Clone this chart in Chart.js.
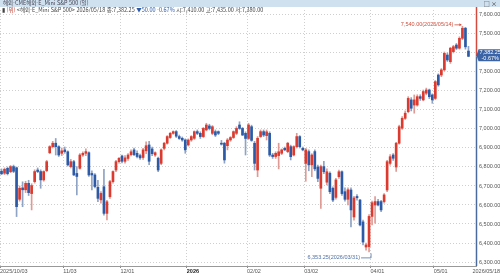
<!DOCTYPE html>
<html lang="ko">
<head>
<meta charset="UTF-8">
<title>E_Mini S&amp;P 500 (일)</title>
<script src="https://cdn.jsdelivr.net/npm/chart.js"></script>
<style>
  html, body { margin: 0; padding: 0; background: #fff; }
  #wrap { position: relative; width: 500px; height: 275px; overflow: hidden; }
  #chart { position: absolute; left: 0; top: 0; }
  #titlebar {
    position: absolute; left: 0; top: 0; width: 500px; height: 7px;
    background: #cfe0ee; color: #445; z-index: 2;
    font: 5.5px/7px 'Noto Sans CJK KR', 'Liberation Sans', sans-serif;
  }
  #titlebar .t { position: absolute; left: 3px; top: 0; white-space: nowrap; }
  #titlebar .ic { position: absolute; right: 3px; top: 0; font-size: 6px; color: #333; }
  #info {
    position: absolute; left: 2px; top: 7px; height: 7px; white-space: nowrap; z-index: 2;
    color: #444; font: 5.5px/7px 'Noto Sans CJK KR', 'Liberation Sans', sans-serif;
  }
  #info .dn { color: #2d5aa6; }
  #info .mk { color: #c0392b; }
</style>
</head>
<body>
<div id="wrap">
  <canvas id="chart" width="500" height="275"></canvas>
  <div id="titlebar"><span class="t">해외-CME해외-E_Mini S&amp;P 500 (일)</span><span class="ic">□ ×</span></div>
  <div id="info">▮ <span class="mk">(위)</span> &lt;해외-E_Mini S&amp;P 500&gt; 2026/05/18 종:7,382.25 <span class="dn">▼50.00 -0.67%</span> 시:7,410.00 고:7,435.00 저:7,380.00</div>
</div>

<script>
// trading days per month
const days2510 = [3,6,7,8,9,10,13,14,15,16,17,20,21,22,23,24,27,28,29,30,31];
const days2511 = [3,4,5,6,7,10,11,12,13,14,17,18,19,20,21,24,25,26,28];
const days2512 = [1,2,3,4,5,8,9,10,11,12,15,16,17,18,19,22,23,24,26,29,30,31];
const days2601 = [2,5,6,7,8,9,12,13,14,15,16,20,21,22,23,26,27,28,29,30];
const days2602 = [2,3,4,5,6,9,10,11,12,13,17,18,19,20,23,24,25,26,27];
const days2603 = [2,3,4,5,6,9,10,11,12,13,16,17,18,19,20,23,24,25,26,27,30,31];
const days2604 = [1,2,6,7,8,9,10,13,14,15,16,17,20,21,22,23,24,27,28,29,30];
const days2605 = [1,4,5,6,7,8,11,12,13,14,15,18];

const monthKeys = ['2025/10','2025/11','2025/12','2026/01','2026/02','2026/03','2026/04','2026/05'];
const monthDays = [days2510, days2511, days2512, days2601, days2602, days2603, days2604, days2605];

// x-axis labels, one per month start
const xTickText = ['2025/10/03','11/03','12/01','2026','02/02','03/02','04/01','05/01'];
const lastDateText = '2026/05/18';

// y-axis ticks
const yTicks = [6300,6400,6500,6600,6700,6800,6900,7000,7100,7200,7300,7400,7500,7600];

const open = [
  6778,6767,6793,6775,6802,6796,6630,6690,6680,6714,6660,6723,6784,6776,6732,6781,6875,6907,6925,6907,6872,
  6890,6880,6802,6828,6766,6793,6863,6872,6875,6766,6758,6693,6627,6696,6556,6644,6723,6784,6828,
  6858,6830,6845,6865,6890,6872,6860,6850,6885,6916,6895,6863,6846,6819,6898,6925,6955,6977,6986,6960,6951,6942,
  6916,6942,6951,6986,6977,6960,6995,7016,6977,6986,6986,6925,6925,6912,6942,6955,6977,7021,7003,6977,
  6950,7012,6925,6784,6960,6986,6965,6977,6863,6855,6860,6872,6898,6881,6907,6863,6907,6960,6898,
  6819,6881,6811,6881,6800,6688,6802,6720,6767,6688,6640,6749,6775,6670,6630,6679,6537,6645,6626,6511,6379,6381,
  6540,6600,6618,6618,6618,6679,6819,6863,6800,6925,7004,7056,7091,7153,7126,7126,7170,7153,7188,7205,7179,
  7161,7284,7284,7311,7389,7354,7407,7442,7425,7477,7530,7410
];
const high = [
  6790,6795,6800,6808,6810,6800,6700,6722,6725,6730,6712,6785,6795,6785,6780,6835,6912,6935,6950,6912,6900,
  6905,6885,6840,6835,6802,6870,6880,6895,6880,6780,6765,6730,6670,6788,6625,6730,6780,6835,6850,
  6862,6860,6870,6890,6900,6885,6868,6898,6932,6935,6905,6880,6852,6895,6930,6965,6982,6990,6992,6968,6958,6948,
  6948,6965,6990,6995,6985,7008,7030,7025,7018,6995,6990,6940,6930,6950,6960,6990,7012,7038,7008,6985,
  7030,7020,6935,6960,6995,6995,6995,6985,6872,6880,6925,6895,6905,6930,6915,6912,6977,6965,6905,
  6898,6890,6870,6890,6810,6810,6830,6790,6775,6695,6740,6784,6780,6690,6690,6690,6645,6655,6630,6520,6400,6550,
  6620,6644,6630,6625,6660,6835,6865,6870,6930,7020,7065,7095,7170,7165,7179,7180,7180,7205,7215,7210,7185,
  7255,7290,7318,7405,7400,7430,7440,7450,7485,7540,7535,7435
];
const low = [
  6760,6760,6758,6770,6770,6539,6620,6591,6665,6650,6574,6715,6770,6688,6725,6775,6870,6900,6863,6855,6860,
  6872,6805,6795,6755,6653,6788,6855,6860,6750,6679,6690,6618,6610,6547,6521,6635,6715,6775,6820,
  6822,6820,6835,6858,6860,6848,6840,6840,6870,6812,6860,6855,6775,6812,6890,6920,6950,6972,6955,6945,6935,6872,
  6910,6935,6945,6970,6950,6955,6990,6995,6970,6960,6970,6915,6820,6890,6935,6950,6970,6998,6965,6863,
  6945,6935,6784,6749,6955,6960,6942,6855,6845,6845,6790,6865,6885,6875,6837,6858,6900,6900,6885,
  6725,6780,6749,6780,6723,6582,6765,6705,6660,6618,6630,6740,6650,6620,6600,6484,6520,6625,6490,6390,6362,6353.25,
  6495,6505,6595,6565,6610,6670,6810,6835,6776,6920,6998,7050,7085,7095,7083,7120,7150,7148,7180,7160,7135,
  7155,7225,7275,7305,7355,7345,7400,7418,7420,7470,7420,7380
];
const close = [
  6764,6788,6765,6802,6777,6591,6688,6680,6714,6665,6702,6776,6776,6732,6776,6828,6907,6925,6907,6863,6885,
  6881,6811,6828,6758,6750,6863,6872,6881,6758,6758,6697,6635,6661,6556,6617,6723,6776,6828,6846,
  6830,6848,6863,6880,6865,6855,6848,6890,6912,6830,6870,6875,6784,6890,6925,6960,6977,6986,6962,6950,6942,6890,
  6942,6960,6986,6977,6960,7003,7021,7003,7012,6968,6977,6920,6837,6942,6955,6986,7003,7003,6968,6950,
  7021,6940,6819,6951,6986,6968,6985,6863,6855,6872,6880,6890,6890,6925,6854,6907,6960,6907,6890,
  6890,6811,6863,6790,6740,6802,6775,6775,6670,6626,6732,6775,6660,6630,6680,6574,6637,6638,6495,6405,6390,6540,
  6612,6618,6600,6574,6653,6828,6854,6846,6925,7012,7056,7083,7161,7109,7153,7170,7161,7197,7205,7170,7153,
  7249,7232,7311,7398,7363,7425,7433,7425,7477,7530,7432.25,7382.25
];

const changePct = '-0.67%';

const UP = '#dc3a2e', DOWN = '#2d5aa6';
const UP_WICK = '#e09a94', DOWN_WICK = '#8fa3c4';

const dates = [];
monthKeys.forEach((m, k) => monthDays[k].forEach(d => dates.push(m + '/' + String(d).padStart(2, '0'))));

// index of first trading day of every month
const monthStart = [];
dates.forEach((d, i) => { if (i === 0 || d.slice(0, 7) !== dates[i - 1].slice(0, 7)) monthStart.push(i); });

const isUp = close.map((c, i) => c >= open[i]);
const fmt = v => v.toLocaleString('en-US', { minimumFractionDigits: 2, maximumFractionDigits: 2 });
const FONT = "'Liberation Sans', Arial, sans-serif";

const decor = {
  id: 'decor',
  afterDraw(chart) {
    const { ctx, chartArea, scales: { x, y } } = chart;
    const last = close.length - 1;
    const yLast = y.getPixelForValue(close[last]);
    const ax = chartArea.right + 0.5;

    // right axis line: red above last price, blue below
    ctx.save();
    ctx.lineWidth = 1.5;
    ctx.strokeStyle = '#d64a3e';
    ctx.beginPath(); ctx.moveTo(ax, chartArea.top - 3); ctx.lineTo(ax, yLast); ctx.stroke();
    ctx.strokeStyle = '#4a6a9c';
    ctx.beginPath(); ctx.moveTo(ax, yLast); ctx.lineTo(ax, chartArea.bottom); ctx.stroke();

    // price tag
    ctx.fillStyle = '#3a64a6';
    ctx.beginPath();
    ctx.moveTo(ax, yLast - 1);
    ctx.lineTo(ax + 2, yLast - 7);
    ctx.lineTo(500, yLast - 7);
    ctx.lineTo(500, yLast + 5);
    ctx.lineTo(ax + 2, yLast + 5);
    ctx.closePath();
    ctx.fill();
    ctx.fillStyle = '#fff';
    ctx.font = '5.5px ' + FONT;
    ctx.textAlign = 'left';
    ctx.textBaseline = 'middle';
    ctx.fillText(fmt(close[last]), ax + 3, yLast - 4);
    ctx.fillText(changePct, ax + 5, yLast + 2);

    // highest high
    let hi = 0, lo = 0;
    high.forEach((v, i) => { if (v > high[hi]) hi = i; });
    low.forEach((v, i) => { if (v < low[lo]) lo = i; });
    const hx = x.getPixelForValue(hi), hy = y.getPixelForValue(high[hi]);
    ctx.fillStyle = '#d0503e';
    ctx.strokeStyle = '#d0503e';
    ctx.lineWidth = 0.8;
    ctx.textAlign = 'right';
    ctx.fillText(fmt(high[hi]) + '(' + dates[hi] + ')', hx - 9, hy - 1.5);
    ctx.beginPath(); ctx.moveTo(hx - 8, hy - 1.5); ctx.lineTo(hx - 1, hy - 1.5); ctx.stroke();
    ctx.beginPath(); ctx.moveTo(hx - 1, hy - 1.5); ctx.lineTo(hx - 3, hy - 3); ctx.lineTo(hx - 3, hy); ctx.closePath(); ctx.fill();

    // lowest low
    const lx = x.getPixelForValue(lo), ly = y.getPixelForValue(low[lo]);
    ctx.fillStyle = '#4f72a8';
    ctx.strokeStyle = '#4f72a8';
    ctx.fillText(fmt(low[lo]) + '(' + dates[lo] + ')', lx - 9, ly + 6);
    ctx.beginPath(); ctx.moveTo(lx - 8, ly + 6); ctx.lineTo(lx + 2, ly + 6); ctx.lineTo(lx + 2, ly + 1.5); ctx.stroke();

    // last date under the price axis
    ctx.fillStyle = '#555';
    ctx.textAlign = 'right';
    ctx.fillText(lastDateText, 500, chartArea.bottom + 5);
    ctx.restore();
  }
};

new Chart(document.getElementById('chart'), {
  type: 'bar',
  data: {
    labels: dates.concat(['', '']),
    datasets: [
      {
        label: 'wick',
        data: dates.map((d, i) => [low[i], high[i]]),
        backgroundColor: isUp.map(u => u ? UP_WICK : DOWN_WICK),
        barThickness: 1,
        grouped: false,
        order: 2
      },
      {
        label: 'body',
        data: dates.map((d, i) => [open[i], close[i]]),
        backgroundColor: isUp.map(u => u ? UP : DOWN),
        barThickness: 2,
        minBarLength: 1,
        grouped: false,
        order: 1
      }
    ]
  },
  options: {
    responsive: false,
    animation: false,
    layout: { padding: { top: 10, left: 0, right: 0, bottom: 0 } },
    plugins: { legend: { display: false }, tooltip: { enabled: false } },
    scales: {
      x: {
        offset: true,
        grid: { offset: false, color: '#cfcfcf', lineWidth: 1, drawTicks: true, tickLength: 2, tickColor: '#888' },
        border: { display: true, color: '#999', dash: [1, 2] },
        ticks: {
          autoSkip: false, maxRotation: 0, minRotation: 0, align: 'start', padding: 0,
          color: ctx => xTickText[ctx.index] === '2026' ? '#222' : '#555',
          font: ctx => ({ family: FONT, size: 5.5, weight: xTickText[ctx.index] === '2026' ? 'bold' : 'normal' }),
          callback: (v, i) => xTickText[i]
        },
        afterBuildTicks: s => { s.ticks = monthStart.map(i => ({ value: i - 0.5 })); },
        afterFit: s => { s.height = 9; }
      },
      y: {
        position: 'right',
        min: 6279,
        max: 7626,
        grid: { color: '#cfcfcf', lineWidth: 1, drawTicks: false },
        border: { display: false, dash: [1, 2] },
        ticks: { padding: 3, color: '#555', font: { family: FONT, size: 5.5 }, callback: v => fmt(v) },
        afterBuildTicks: s => { s.ticks = yTicks.map(v => ({ value: v })); },
        afterFit: s => { s.width = 24; }
      }
    }
  },
  plugins: [decor]
});
</script>
</body>
</html>
